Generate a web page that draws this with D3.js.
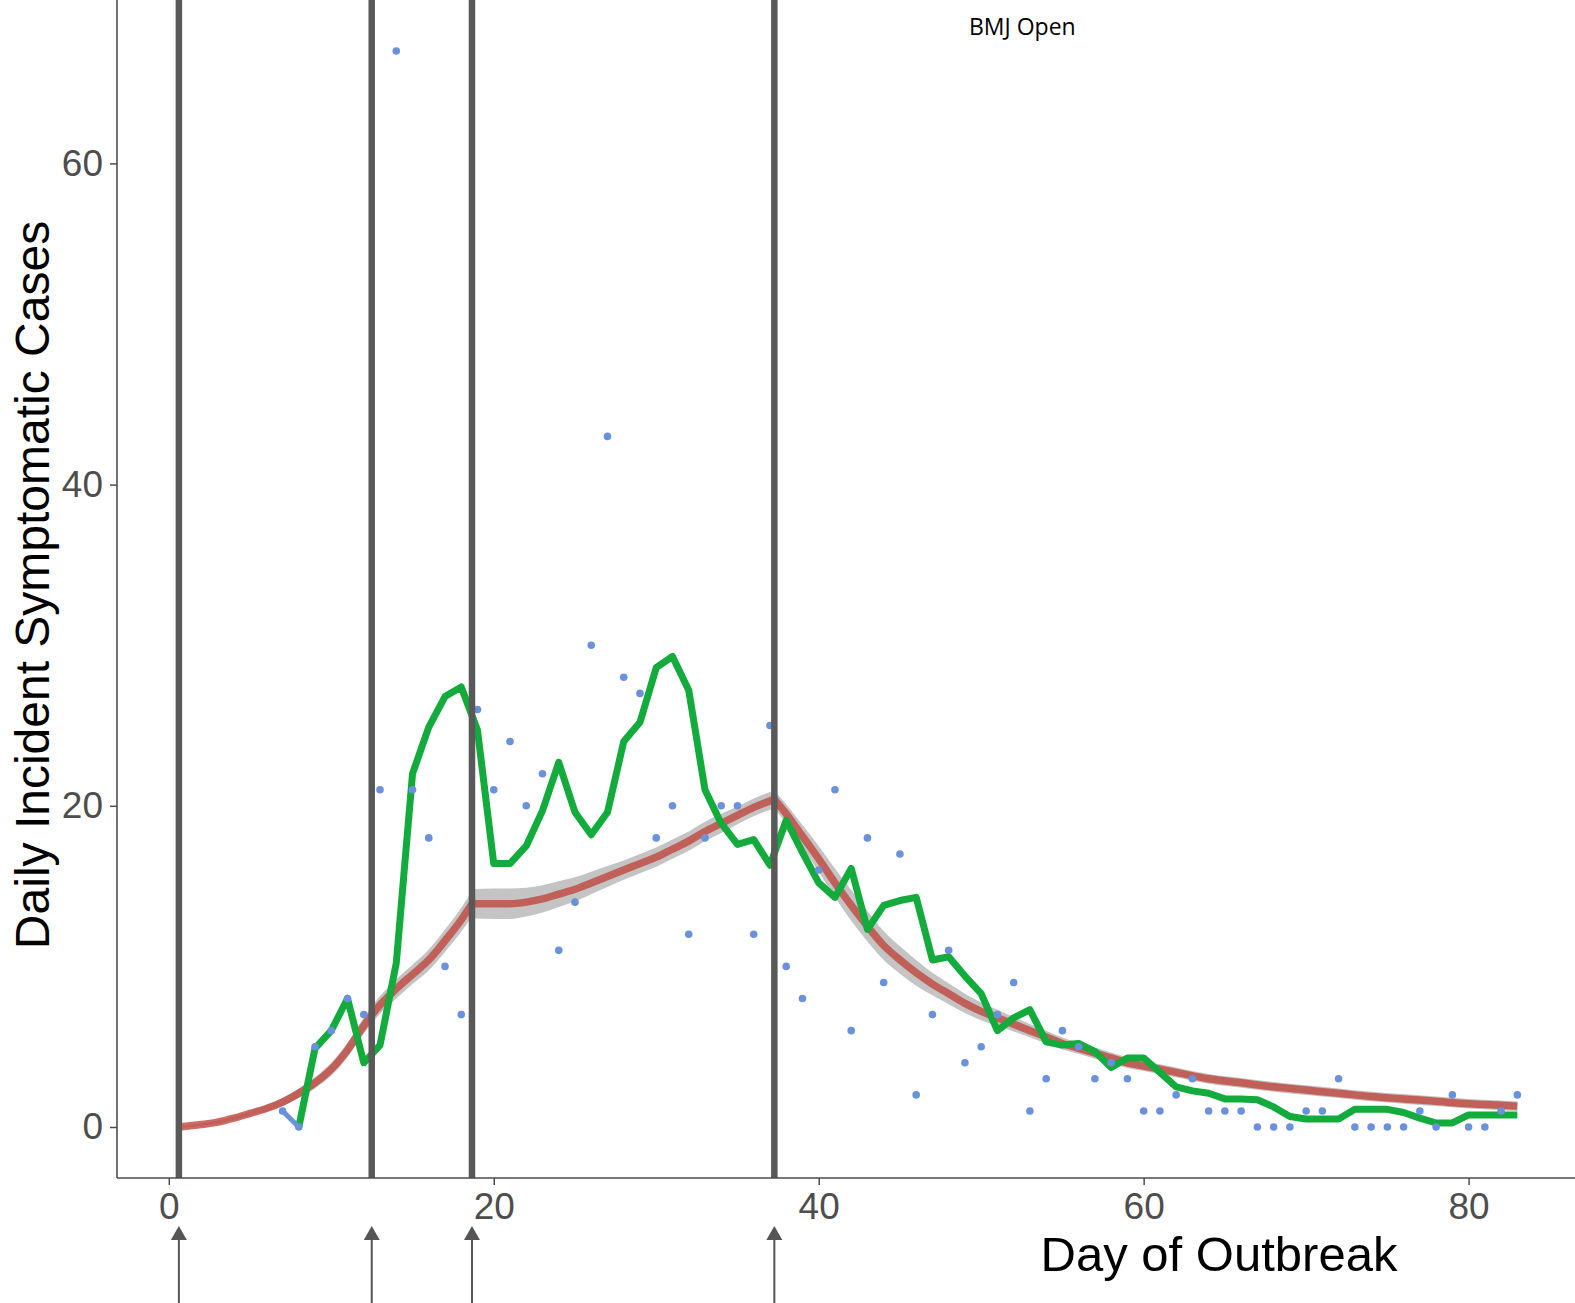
<!DOCTYPE html>
<html>
<head>
<meta charset="utf-8">
<script src="https://cdn.jsdelivr.net/npm/d3@7"></script>
<style>
  html, body { margin: 0; padding: 0; background: #ffffff; }
  svg { display: block; }
</style>
</head>
<body>
<svg id="chart" width="1575" height="1303"></svg>
<script>
// ---- Observed daily incident symptomatic cases (days 7..83) ----
const obsDays = d3.range(7, 84);
const obsCases = [
  1, 0, 5, 6, 8, 7, 21, 67, 21, 18, 10, 7, 26, 21, 24, 20, 22, 11, 14, 30,
  43, 28, 27, 18, 20, 12, 18, 20, 20, 12, 25, 10, 8, 16, 21, 6, 18, 9, 17, 2,
  7, 11, 4, 5, 7, 9, 1, 3, 6, 5, 3, 4, 3, 1, 1, 2, 3, 1, 1, 1,
  0, 0, 0, 1, 1, 3, 0, 0, 0, 0, 1, 0, 2, 0, 0, 1, 2
];

// ---- Smoothed series (green), days 8..83 ----
const smoothDays = d3.range(8, 84);
const smoothCases = [
  0, 4.9, 6.0, 8.0, 4.0, 5.1, 10.2, 22.0, 24.9, 26.8, 27.4, 24.7, 16.4, 16.4, 17.5, 19.7,
  22.7, 19.6, 18.2, 19.6, 24.0, 25.2, 28.6, 29.3, 27.2, 21.0, 18.9, 17.6, 17.9, 16.3, 19.1, 17.1,
  15.2, 14.3, 16.1, 12.3, 13.8, 14.1, 14.3, 10.4, 10.6, 9.4, 8.3, 6.0, 6.8, 7.3, 5.3, 5.1,
  5.2, 4.7, 3.7, 4.3, 4.3, 3.4, 2.5, 2.25, 2.1, 1.75, 1.75, 1.7, 1.25, 0.65, 0.5, 0.5,
  0.5, 1.1, 1.1, 1.1, 0.9, 0.55, 0.25, 0.25, 0.75, 0.75, 0.75, 0.75
];

// ---- Segmented model fit (red) with standard-error ribbon (grey) ----
const breakDays = [0.62, 12.49, 18.66, 37.27];

const fitSeg1Days = [0.65, 2, 3, 4, 5, 6, 7, 8, 9, 10, 11, 12, 13, 14, 15, 16, 17, 18, 18.66];
const fitSeg1 =     [0.0, 0.15, 0.3, 0.55, 0.85, 1.15, 1.55, 2.1, 2.75, 3.6, 4.8, 6.3, 7.6, 8.6, 9.5, 10.4, 11.6, 12.9, 13.9];
const seSeg1 =      [0.05, 0.08, 0.1, 0.12, 0.15, 0.2, 0.25, 0.3, 0.35, 0.4, 0.45, 0.5, 0.55, 0.6, 0.6, 0.65, 0.7, 0.75, 0.8];

const fitSeg2Days = [18.66, 20, 21, 22, 23, 24, 25, 26, 27, 28, 29, 30, 31, 32, 33, 34, 35, 36, 37.27];
const fitSeg2 =     [13.9, 13.9, 13.9, 14.0, 14.2, 14.5, 14.8, 15.2, 15.6, 16.0, 16.4, 16.8, 17.3, 17.8, 18.4, 18.9, 19.4, 19.9, 20.4];
const seSeg2 =      [0.9, 0.95, 0.95, 0.9, 0.85, 0.8, 0.75, 0.7, 0.65, 0.6, 0.6, 0.6, 0.6, 0.6, 0.6, 0.6, 0.55, 0.55, 0.55];

const fitSeg3Days = [37.27, 38, 39, 40, 41, 42, 43, 44, 45, 46, 47, 48, 49, 50, 51, 52, 53, 54, 55, 56,
                     57, 58, 59, 60, 62, 64, 66, 68, 70, 72, 74, 76, 78, 80, 82, 83];
const fitSeg3 =     [20.4, 19.5, 18.1, 16.7, 15.2, 13.8, 12.5, 11.3, 10.4, 9.6, 8.9, 8.3, 7.7, 7.2, 6.8, 6.4, 6.0, 5.6, 5.2, 4.9,
                     4.6, 4.3, 4.0, 3.8, 3.4, 3.0, 2.75, 2.5, 2.3, 2.1, 1.9, 1.75, 1.6, 1.45, 1.35, 1.3];
const seSeg3 =      [0.55, 0.6, 0.7, 0.8, 0.9, 0.95, 0.95, 0.9, 0.85, 0.8, 0.7, 0.65, 0.6, 0.55, 0.5, 0.45, 0.42, 0.4, 0.38, 0.36,
                     0.35, 0.34, 0.33, 0.32, 0.3, 0.3, 0.3, 0.3, 0.3, 0.3, 0.3, 0.3, 0.3, 0.3, 0.3, 0.3];

// ---- Axis ticks and titles ----
const xTicks = [0, 20, 40, 60, 80];
const yTicks = [0, 20, 40, 60];
const xTitle = "Day of Outbreak";
const yTitle = "Daily Incident Symptomatic Cases";
const journal = "BMJ Open";

// ---- Layout ----
const W = 1575, H = 1303;
const axisX = 117, axisY = 1178;
const x = d3.scaleLinear().domain([0, 80]).range([168.8, 1468.6]);
const y = d3.scaleLinear().domain([0, 60]).range([1127, 163.4]);

const svg = d3.select("#chart");
svg.append("rect").attr("width", W).attr("height", H).attr("fill", "#ffffff");

const zip = (days, vals, se) => days.map((d, i) => ({ d, v: vals[i], s: se ? se[i] : 0 }));
const segments = [
  zip(fitSeg1Days, fitSeg1, seSeg1),
  zip(fitSeg2Days, fitSeg2, seSeg2),
  zip(fitSeg3Days, fitSeg3, seSeg3)
];

// grey confidence ribbon
const ribbon = d3.area()
  .x(p => x(p.d))
  .y0(p => y(p.v - p.s))
  .y1(p => y(p.v + p.s))
  .curve(d3.curveMonotoneX);
svg.append("g").selectAll("path").data(segments).join("path")
  .attr("d", ribbon)
  .attr("fill", "#c4c4c4");

// red fitted curve, one continuous path with corners at the breakpoints
const fitLine = d3.line().x(p => x(p.d)).y(p => y(p.v)).curve(d3.curveMonotoneX);
const fitPath = segments.map((seg, i) => {
  const s = fitLine(seg);
  return i === 0 ? s : s.replace(/^M/, "L");
}).join("");
svg.append("path")
  .attr("d", fitPath)
  .attr("fill", "none")
  .attr("stroke", "#c0473e")
  .attr("stroke-opacity", 0.8)
  .attr("stroke-width", 7.5)
  .attr("stroke-linejoin", "round");

// green smoothed series
const lineGen = d3.line().x(p => x(p.d)).y(p => y(p.v));
svg.append("path")
  .datum(zip(smoothDays, smoothCases))
  .attr("d", lineGen)
  .attr("fill", "none")
  .attr("stroke", "#12ab3c")
  .attr("stroke-width", 7)
  .attr("stroke-linejoin", "round");

// short observed segment at the start of the series
svg.append("path")
  .datum(zip(obsDays.slice(0, 2), obsCases.slice(0, 2)))
  .attr("d", lineGen)
  .attr("fill", "none")
  .attr("stroke", "#6a92da")
  .attr("stroke-width", 5)
  .attr("stroke-linecap", "round");

// observed points
svg.append("g").selectAll("circle").data(zip(obsDays, obsCases)).join("circle")
  .attr("cx", p => x(p.d))
  .attr("cy", p => y(p.v))
  .attr("r", 3.8)
  .attr("fill", "#6a92da");

// vertical event lines
svg.append("g").selectAll("line").data(breakDays).join("line")
  .attr("x1", d => x(d)).attr("x2", d => x(d))
  .attr("y1", 0).attr("y2", axisY)
  .attr("stroke", "#595959")
  .attr("stroke-width", 6.5);

// axes
const font = "'Liberation Sans', Arial, sans-serif";
const yAxis = svg.append("g")
  .attr("transform", `translate(${axisX},0)`)
  .call(d3.axisLeft(y).tickValues(yTicks).tickSize(7).tickPadding(7));
const xAxis = svg.append("g")
  .attr("transform", `translate(0,${axisY})`)
  .call(d3.axisBottom(x).tickValues(xTicks).tickSize(7).tickPadding(8));
[xAxis, yAxis].forEach(g => {
  g.select(".domain").remove();
  g.selectAll(".tick line").attr("stroke", "#4d4d4d").attr("stroke-width", 1.5);
  g.selectAll(".tick text")
    .attr("fill", "#4d4d4d")
    .style("font-family", font)
    .style("font-size", "37px");
});
svg.append("line").attr("x1", axisX).attr("x2", axisX).attr("y1", 0).attr("y2", axisY)
  .attr("stroke", "#4d4d4d").attr("stroke-width", 1.6);
svg.append("line").attr("x1", axisX).attr("x2", W).attr("y1", axisY).attr("y2", axisY)
  .attr("stroke", "#4d4d4d").attr("stroke-width", 1.6);

// arrows under the axis marking the events
const arrows = svg.append("g").selectAll("g").data(breakDays).join("g")
  .attr("transform", d => `translate(${x(d)},0)`);
arrows.append("line")
  .attr("x1", 0).attr("x2", 0).attr("y1", 1236).attr("y2", H)
  .attr("stroke", "#555555").attr("stroke-width", 2);
arrows.append("path")
  .attr("d", "M0,1226 L8,1240 L-8,1240 Z")
  .attr("fill", "#555555");

// titles
svg.append("text")
  .attr("x", 1219).attr("y", 1271)
  .attr("text-anchor", "middle")
  .style("font-family", font)
  .style("font-size", "49px")
  .attr("fill", "#000000")
  .text(xTitle);

svg.append("text")
  .attr("transform", "translate(49,585) rotate(-90)")
  .attr("text-anchor", "middle")
  .style("font-family", font)
  .style("font-size", "48px")
  .attr("fill", "#000000")
  .text(yTitle);

svg.append("text")
  .attr("x", 969).attr("y", 35)
  .style("font-family", "'Open Sans', 'Noto Sans', sans-serif")
  .style("font-size", "23px")
  .attr("fill", "#000000")
  .text(journal);
</script>
</body>
</html>
